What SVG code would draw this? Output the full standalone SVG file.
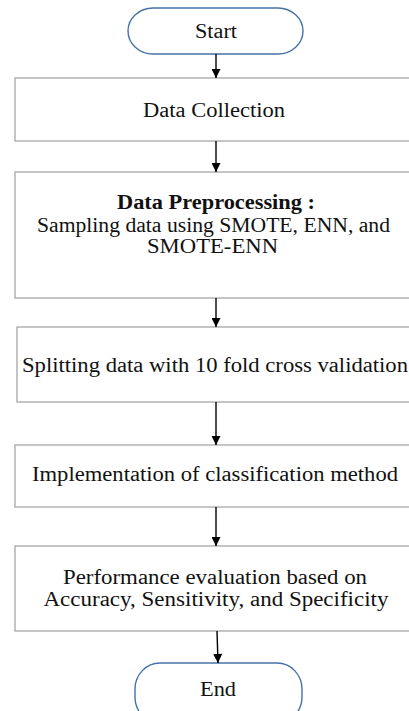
<svg xmlns="http://www.w3.org/2000/svg" width="409" height="711" viewBox="0 0 409 711">
<defs>
<style>
.term{fill:#fff;stroke:#4472a8;stroke-width:1.4}
.box{fill:#fff;stroke:#a6a6a6;stroke-width:1.3}
.t{font-family:"Liberation Serif","Times New Roman",serif;font-size:20px;fill:#111;text-anchor:middle}
.b{font-weight:bold}
.c{stroke:#000;stroke-width:1.4;fill:none;marker-end:url(#ah)}
</style>
<marker id="ah" viewBox="0 0 10 10" refX="10" refY="5" markerUnits="userSpaceOnUse" markerWidth="10" markerHeight="9" orient="auto">
<path d="M0,0 L10,5 L0,10 Z" fill="#000"/>
</marker>
</defs>
<rect width="409" height="711" fill="#fff"/>
<g id="start">
<rect class="term" x="128" y="8" width="175" height="46" rx="25" ry="23"/>
<text class="t" x="216" y="38" textLength="42" lengthAdjust="spacingAndGlyphs">Start</text>
</g>
<g id="data-collection">
<rect class="box" x="15" y="78" width="402" height="63"/>
<text class="t" x="214" y="117" textLength="142" lengthAdjust="spacingAndGlyphs">Data Collection</text>
</g>
<g id="preprocessing">
<rect class="box" x="15" y="172" width="402" height="126"/>
<text class="t b" x="216" y="209" textLength="198" lengthAdjust="spacingAndGlyphs">Data Preprocessing :</text>
<text class="t" x="213.5" y="232" textLength="353" lengthAdjust="spacingAndGlyphs">Sampling data using SMOTE, ENN, and</text>
<text class="t" x="212.5" y="253" textLength="131" lengthAdjust="spacingAndGlyphs">SMOTE-ENN</text>
</g>
<g id="splitting">
<rect class="box" x="17" y="327" width="400" height="75"/>
<text class="t" x="215" y="372" textLength="386" lengthAdjust="spacingAndGlyphs">Splitting data with 10 fold cross validation</text>
</g>
<g id="implementation">
<rect class="box" x="15" y="445" width="402" height="62"/>
<text class="t" x="215" y="481" textLength="366" lengthAdjust="spacingAndGlyphs">Implementation of classification method</text>
</g>
<g id="evaluation">
<rect class="box" x="15" y="546" width="402" height="85"/>
<text class="t" x="215" y="584" textLength="304" lengthAdjust="spacingAndGlyphs">Performance evaluation based on</text>
<text class="t" x="216" y="606" textLength="345" lengthAdjust="spacingAndGlyphs">Accuracy, Sensitivity, and Specificity</text>
</g>
<g id="end">
<rect class="term" x="135" y="663" width="167" height="60" rx="25" ry="26"/>
<text class="t" x="218" y="696" textLength="36" lengthAdjust="spacingAndGlyphs">End</text>
</g>
<g id="connectors">
<line class="c" x1="216" y1="54" x2="216" y2="78"/>
<line class="c" x1="216" y1="141" x2="216" y2="172"/>
<line class="c" x1="216" y1="298" x2="216" y2="327"/>
<line class="c" x1="216" y1="402" x2="216" y2="445"/>
<line class="c" x1="216" y1="507" x2="216" y2="546"/>
<line class="c" x1="217" y1="631" x2="218" y2="663"/>
</g>
</svg>
